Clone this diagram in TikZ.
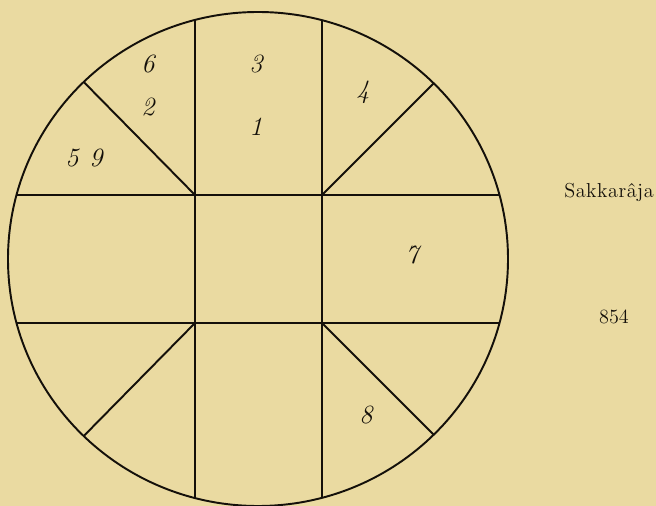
\documentclass[tikz,border=0pt]{standalone}
\usepackage{tikz}
\usetikzlibrary{calc}
\definecolor{paper}{RGB}{234,218,161}
\definecolor{ink}{RGB}{20,16,10}
\tikzset{
  rule/.style={draw=ink,line width=1.1pt},
  house/.style={font=\fontsize{15}{17}\selectfont\itshape,text=ink,inner sep=1pt},
  margintext/.style={font=\fontsize{11.5}{13}\selectfont,text=ink,inner sep=1pt},
}

\begin{document}
\begin{tikzpicture}[x=0.02cm,y=-0.02cm]

  % paper
  \fill[paper] (0,0) rectangle (656,506);
  \useasboundingbox (0,0) rectangle (656,506);

  % centre and the four corners of the middle square
  \coordinate (ctr) at (258,259);
  \coordinate (nw) at (195,195);
  \coordinate (ne) at (322,195);
  \coordinate (sw) at (195,323);
  \coordinate (se) at (322,323);

  % inner lines, cut off by the rim
  \begin{scope}
    \clip (ctr) ellipse [x radius=250,y radius=247];
    \draw[rule] ($(nw)+(-300,0)$) -- ($(ne)+(300,0)$);
    \draw[rule] ($(sw)+(-300,0)$) -- ($(se)+(300,0)$);
    \draw[rule] ($(nw)+(0,-300)$) -- ($(sw)+(0,300)$);
    \draw[rule] ($(ne)+(0,-300)$) -- ($(se)+(0,300)$);
    \draw[rule] (nw) -- ($(ctr)!3!(nw)$);
    \draw[rule] (ne) -- ($(ctr)!3!(ne)$);
    \draw[rule] (sw) -- ($(ctr)!3!(sw)$);
    \draw[rule] (se) -- ($(ctr)!3!(se)$);
  \end{scope}

  % rim
  \draw[rule] (ctr) ellipse [x radius=250,y radius=247];

  % houses
  \node[house] (six) at (148,64) {6};
  \node[house] (two) at (148,107) {2};
  \node[house] (three) at (256,64) {3};
  \node[house] (one) at (256,127) {1};
  \node[house] (five) at (72,158) {5};
  \node[house] (nine) at (96,158) {9};
  \node[house] (four) at (363,92) {4};
  \node[house] (seven) at (412,255) {7};
  \node[house] (eight) at (366,415) {8};

  % margin
  \node[margintext] (era) at (609,192) {S\kern0.3pt a\kern0.3pt k\kern0.3pt k\kern0.3pt a\kern0.3pt r\kern0.3pt \^a\kern0.3pt j\kern0.3pt a};
  \node[margintext] (year) at (614,317) {854};

\end{tikzpicture}
\end{document}
